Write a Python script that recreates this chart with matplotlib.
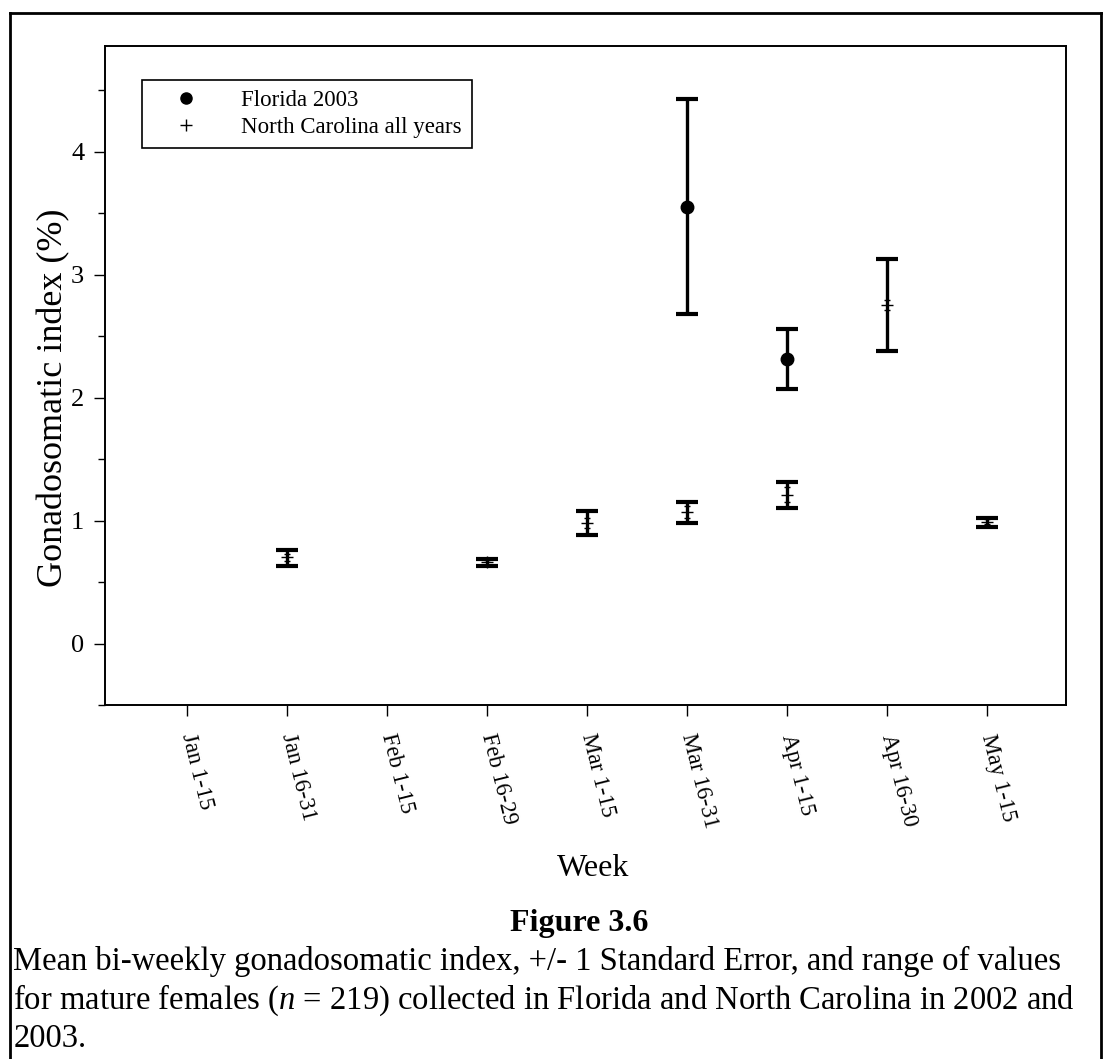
import numpy as np
import matplotlib
matplotlib.use("Agg")
from matplotlib import pyplot as plt
from matplotlib.lines import Line2D

plt.rcParams['font.family'] = ['Liberation Serif', 'DejaVu Serif']
plt.rcParams['mathtext.fontset'] = 'custom'
plt.rcParams['mathtext.it'] = 'Liberation Serif:italic'
plt.rcParams['mathtext.rm'] = 'Liberation Serif'

# ---------------- data ----------------
weeks = ['Jan 1-15', 'Jan 16-31', 'Feb 1-15', 'Feb 16-29', 'Mar 1-15',
         'Mar 16-31', 'Apr 1-15', 'Apr 16-30', 'May 1-15']

# Florida 2003 (index into weeks)
fl_idx = [5, 6]
fl_mean = [3.55, 2.31]
fl_low = [2.68, 2.07]
fl_high = [4.43, 2.56]

# North Carolina all years
nc_idx = [1, 3, 4, 5, 6, 7, 8]
nc_mean = [0.70, 0.66, 0.98, 1.07, 1.21, 2.75, 0.99]
nc_low = [0.63, 0.63, 0.88, 0.98, 1.10, 2.38, 0.95]
nc_high = [0.76, 0.69, 1.08, 1.15, 1.31, 3.13, 1.02]
nc_se = [0.03, 0.02, 0.04, 0.05, 0.06, 0.04, 0.02]

# ---------------- figure ----------------
fig = plt.figure(figsize=(11.04, 10.59), dpi=100)
ax = fig.add_axes([0.0951, 0.3343, 0.8705, 0.6223])

# range bars
ax.errorbar(fl_idx, fl_mean,
            yerr=[np.subtract(fl_mean, fl_low), np.subtract(fl_high, fl_mean)],
            fmt='none', ecolor='black', elinewidth=2.4, capsize=8, capthick=3)
ax.errorbar(nc_idx, nc_mean,
            yerr=[np.subtract(nc_mean, nc_low), np.subtract(nc_high, nc_mean)],
            fmt='none', ecolor='black', elinewidth=2.4, capsize=8, capthick=3)

# means
ax.plot(fl_idx, fl_mean, 'o', color='black', markersize=9, zorder=5)
ax.errorbar(nc_idx, nc_mean, yerr=nc_se, fmt='+', color='black',
            markersize=8, mew=1, elinewidth=1, capsize=2.5, zorder=5)

ax.set_xlim(-0.82, 8.79)
ax.set_ylim(-0.46, 4.86)
ax.set_xticks(range(len(weeks)))
ax.set_xticklabels(weeks, rotation=-76, rotation_mode='anchor',
                   ha='left', va='center', fontsize=16.5)
ax.set_yticks([0, 1, 2, 3, 4])
ax.set_yticks(np.arange(-0.5, 4.6, 0.5), minor=True)
ax.tick_params(axis='y', which='major', length=8, width=1, labelsize=19, pad=7)
ax.tick_params(axis='y', which='minor', length=5, width=1)
ax.tick_params(axis='x', which='major', length=8, width=1, pad=13)
for s in ax.spines.values():
    s.set_linewidth(1.4)

ax.set_ylabel('Gonadosomatic index (%)', fontsize=26)
ax.yaxis.set_label_coords(-0.036, 0.466)

handles = [Line2D([], [], marker='o', color='black', linestyle='none', markersize=8),
           Line2D([], [], marker='+', color='black', linestyle='none', markersize=9, mew=1)]
leg = ax.legend(handles, ['Florida 2003', 'North Carolina all years'],
                loc='upper left', bbox_to_anchor=(0.038, 0.949), fontsize=16.5,
                fancybox=False, edgecolor='black', framealpha=1,
                handletextpad=0.9, borderpad=0.45, labelspacing=0.25,
                handlelength=3.0, borderaxespad=0)
leg.get_frame().set_linewidth(1.2)

# x label and caption
fig.text(0.537, 1 - 868 / 1059, 'Week', ha='center', va='center', fontsize=23)
fig.text(0.525, 1 - 924 / 1059, 'Figure 3.6', ha='center', va='center',
         fontsize=23, fontweight='bold')
fig.text(0.012, 1 - 961 / 1059,
         'Mean bi-weekly gonadosomatic index, +/- 1 Standard Error, and range of values',
         ha='left', va='center', fontsize=23.5)
fig.text(0.012, 1 - 1000 / 1059,
         'for mature females ($n$ = 219) collected in Florida and North Carolina in 2002 and',
         ha='left', va='center', fontsize=23.5)
fig.text(0.012, 1 - 1039 / 1059, '2003.', ha='left', va='center', fontsize=23.5)

# page frame
fig.add_artist(Line2D([0.009, 0.009], [0.0, 0.988], transform=fig.transFigure,
                      color='black', lw=2))
fig.add_artist(Line2D([0.009, 0.997], [0.988, 0.988], transform=fig.transFigure,
                      color='black', lw=2))
fig.add_artist(Line2D([0.997, 0.997], [0.0, 0.988], transform=fig.transFigure,
                      color='black', lw=2))

plt.savefig('out.png', dpi=100)
